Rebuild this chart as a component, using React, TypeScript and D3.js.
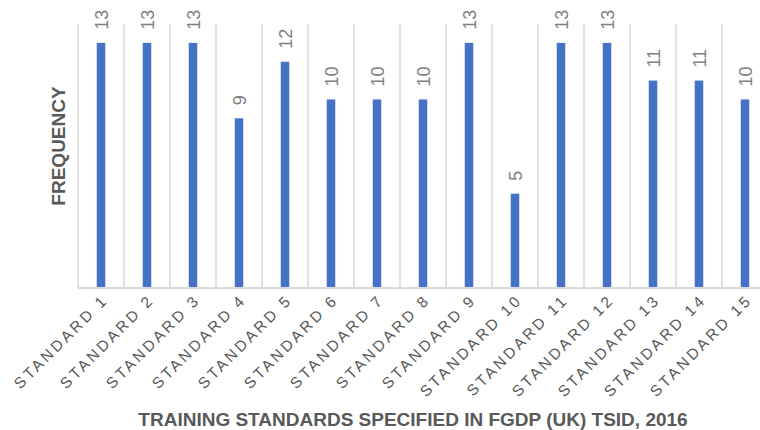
import { useEffect, useRef } from 'react';
import * as d3 from 'd3';

const categories = [
  'STANDARD 1', 'STANDARD 2', 'STANDARD 3', 'STANDARD 4', 'STANDARD 5',
  'STANDARD 6', 'STANDARD 7', 'STANDARD 8', 'STANDARD 9', 'STANDARD 10',
  'STANDARD 11', 'STANDARD 12', 'STANDARD 13', 'STANDARD 14', 'STANDARD 15',
];
const frequency = [13, 13, 13, 9, 12, 10, 10, 10, 13, 5, 13, 13, 11, 11, 10];
const yDomain = [0, 14];

const xTitle = 'TRAINING STANDARDS SPECIFIED IN FGDP (UK) TSID, 2016';
const yTitle = 'FREQUENCY';

const FONT = '"Liberation Sans", Arial, Helvetica, sans-serif';

const App = () => {
  const svgRef = useRef<SVGSVGElement>(null);
  const width = 760;
  const height = 430;

  useEffect(() => {
    if (!svgRef.current) return;
    const svg = d3.select(svgRef.current);
    svg.selectAll('*').remove();

    const margin = { top: 24, right: -8, bottom: 142, left: 78 };
    const plotW = width - margin.left - margin.right;
    const plotH = height - margin.top - margin.bottom;

    const x = d3.scaleBand<string>()
      .domain(categories)
      .range([0, plotW])
      .paddingInner(0)
      .paddingOuter(0);

    const y = d3.scaleLinear().domain(yDomain).range([plotH, 0]);

    const g = svg.append('g')
      .attr('transform', `translate(${margin.left},${margin.top})`);

    // category separators
    g.selectAll('line.sep')
      .data(categories)
      .enter()
      .append('line')
      .attr('class', 'sep')
      .attr('x1', d => x(d)!)
      .attr('x2', d => x(d)!)
      .attr('y1', 0)
      .attr('y2', plotH)
      .attr('stroke', '#d9d9d9')
      .attr('stroke-width', 1.5);

    const barW = 8.5;
    g.selectAll('rect.bar')
      .data(frequency)
      .enter()
      .append('rect')
      .attr('class', 'bar')
      .attr('x', (_, i) => x(categories[i])! + x.bandwidth() / 2 - barW / 2)
      .attr('y', d => y(d))
      .attr('width', barW)
      .attr('height', d => plotH - y(d))
      .attr('fill', '#4472c4');

    // baseline
    g.append('line')
      .attr('x1', 0)
      .attr('x2', plotW)
      .attr('y1', plotH)
      .attr('y2', plotH)
      .attr('stroke', '#d9d9d9')
      .attr('stroke-width', 2);

    // value labels
    g.selectAll('text.val')
      .data(frequency)
      .enter()
      .append('text')
      .attr('class', 'val')
      .attr('transform', (d, i) => {
        const cx = x(categories[i])! + x.bandwidth() / 2;
        return `translate(${cx + 6.7},${y(d) - 13}) rotate(-90)`;
      })
      .attr('text-anchor', 'start')
      .attr('font-family', FONT)
      .attr('font-size', 18)
      .attr('fill', '#808080')
      .text(d => String(d));

    // category labels
    g.selectAll('text.cat')
      .data(categories)
      .enter()
      .append('text')
      .attr('class', 'cat')
      .attr('transform', d => {
        const cx = x(d)! + x.bandwidth() / 2;
        return `translate(${cx + 8},${plotH + 13}) rotate(-45)`;
      })
      .attr('text-anchor', 'end')
      .attr('font-family', FONT)
      .attr('font-size', 15.4)
      .attr('letter-spacing', 2.9)
      .attr('fill', '#595959')
      .text(d => d);

    // axis titles
    svg.append('text')
      .attr('x', 413)
      .attr('y', 426)
      .attr('text-anchor', 'middle')
      .attr('font-family', FONT)
      .attr('font-size', 19)
      .attr('font-weight', 'bold')
      .attr('fill', '#595959')
      .text(xTitle);

    svg.append('text')
      .attr('transform', `translate(65,146) rotate(-90)`)
      .attr('text-anchor', 'middle')
      .attr('font-family', FONT)
      .attr('font-size', 19)
      .attr('font-weight', 'bold')
      .attr('fill', '#595959')
      .text(yTitle);
  }, []);

  return (
    <svg
      ref={svgRef}
      width={width}
      height={height}
      style={{ position: 'absolute', left: 0, top: 0, background: '#fff' }}
    />
  );
};

export default App;
